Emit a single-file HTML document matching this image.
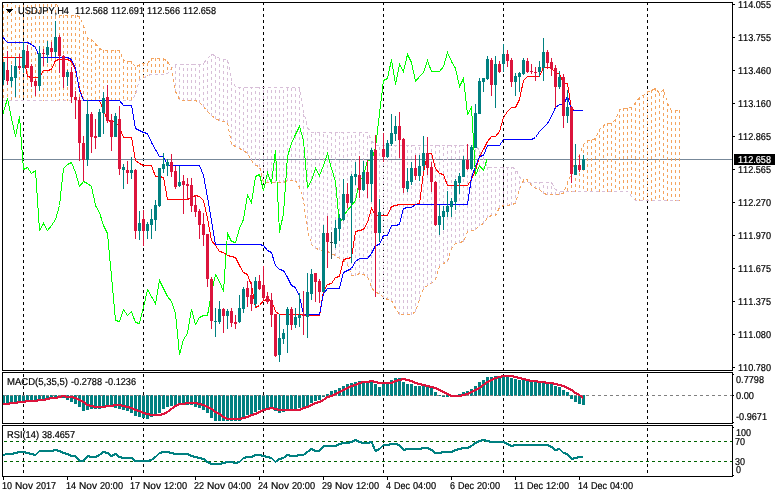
<!DOCTYPE html>
<html lang="en"><head><meta charset="utf-8"><title>USDJPY,H4</title>
<style>html,body{margin:0;padding:0;background:#fff;overflow:hidden}svg{display:block}text{font-family:"Liberation Sans", sans-serif;font-size:10px;fill:#000;font-kerning:none;text-rendering:geometricPrecision;stroke:#000;stroke-width:0.2px}.c{shape-rendering:crispEdges}</style></head><body>
<svg width="775" height="497" viewBox="0 0 775 497">
<rect width="775" height="497" fill="#fff"/>
<defs><clipPath id="m"><rect x="3" y="3" width="729" height="367"/></clipPath><clipPath id="p2"><rect x="3" y="373" width="729" height="50"/></clipPath><clipPath id="p3"><rect x="3" y="426" width="729" height="50"/></clipPath></defs>
<g class="c">
<path d="M23.5 2V476" stroke="#000" stroke-width="1" stroke-dasharray="3 3" fill="none"/>
<path d="M143.5 2V476" stroke="#000" stroke-width="1" stroke-dasharray="3 3" fill="none"/>
<path d="M263.5 2V476" stroke="#000" stroke-width="1" stroke-dasharray="3 3" fill="none"/>
<path d="M383.5 2V476" stroke="#000" stroke-width="1" stroke-dasharray="3 3" fill="none"/>
<path d="M503.5 2V476" stroke="#000" stroke-width="1" stroke-dasharray="3 3" fill="none"/>
<path d="M647.5 2V476" stroke="#000" stroke-width="1" stroke-dasharray="3 3" fill="none"/>
<rect x="3" y="159" width="730" height="1" fill="#778899"/>
</g>
<g class="c" clip-path="url(#m)">
<path d="M3.5 -1V101M7.5 -2V101M11.5 1V101M15.5 -1V101M19.5 -1V101M23.5 -1V101M27.5 -1V101M31.5 -1V101M35.5 -2V101M39.5 -2V101M43.5 -2V101M47.5 -2V101M51.5 -2V101M55.5 -2V101M59.5 15V101M63.5 15V101M67.5 15V101M71.5 15V101M75.5 15V101M79.5 16V101M83.5 25V101M87.5 38V101M91.5 39V101M95.5 43V101M99.5 48V101M103.5 50V101M107.5 50V101M111.5 50V101M115.5 50V101M119.5 50V101M123.5 60V101M127.5 61V101M131.5 61V101M135.5 67V95M139.5 64V80M143.5 63V79M147.5 63V76M151.5 58V75M155.5 58V75M159.5 58V75M163.5 58V75M167.5 61V74M523.5 179V183M527.5 179V183M567.5 182V192M571.5 173V192M575.5 160V192M579.5 155V192M583.5 144V192M587.5 140V192M591.5 140V192M595.5 138V192M599.5 129V192M603.5 125V192M607.5 123V192M611.5 123V192M615.5 119V192M619.5 109V192M623.5 108V192M627.5 108V192M631.5 107V197M635.5 102V201M639.5 97V201M643.5 95V201M647.5 91V201M651.5 90V201M655.5 88V201M659.5 93V201M663.5 89V201M667.5 103V201M671.5 110V201M675.5 110V201M679.5 110V201" stroke="#F4A460" stroke-width="1" stroke-dasharray="3 3" fill="none"/>
<path d="M175.5 92V64M179.5 100V64M183.5 101V64M187.5 101V64M191.5 101V64M195.5 101V64M199.5 103V64M203.5 107V63M207.5 112V58M211.5 116V54M215.5 119V55M219.5 121V58M223.5 122V59M227.5 123V59M231.5 145V80M235.5 147V86M239.5 149V87M243.5 151V87M247.5 154V87M251.5 161V87M255.5 166V87M259.5 167V87M263.5 183V87M267.5 183V87M271.5 183V87M275.5 183V87M279.5 183V87M283.5 183V87M287.5 181V87M291.5 181V87M295.5 181V87M299.5 188V87M303.5 201V110M307.5 231V127M311.5 245V132M315.5 249V132M319.5 250V132M323.5 251V132M327.5 252V132M331.5 254V132M335.5 256V132M339.5 259V132M343.5 260V132M347.5 265V132M351.5 276V132M355.5 276V132M359.5 274V132M363.5 275V132M367.5 277V132M371.5 288V140M375.5 293V145M379.5 294V145M383.5 298V145M387.5 300V145M391.5 301V145M395.5 309V145M399.5 315V145M403.5 315V145M407.5 315V145M411.5 315V145M415.5 312V145M419.5 300V145M423.5 289V145M427.5 286V145M431.5 284V145M435.5 280V145M439.5 267V145M443.5 264V145M447.5 262V145M451.5 249V145M455.5 244V145M459.5 243V145M463.5 242V145M467.5 232V145M471.5 231V145M475.5 230V145M479.5 226V150M483.5 224V158M487.5 218V167M491.5 216V167M495.5 216V167M499.5 208V167M503.5 206V167M507.5 206V167M511.5 205V167M515.5 204V168M519.5 190V176M531.5 186V182M535.5 189V182M539.5 190V182M543.5 194V182M547.5 195V182M551.5 195V182M555.5 195V189M559.5 195V191M563.5 194V191" stroke="#D8BFD8" stroke-width="1" stroke-dasharray="3 3" fill="none"/>
<polyline points="3,100.5 7.5,100.5 11.5,100.5 15.5,100.5 19.5,100.5 23.5,100.5 27.5,100.5 31.5,100.5 35.5,100.5 39.5,100.5 43.5,100.5 47.5,100.5 51.5,100.5 55.5,100.5 59.5,100.5 63.5,100.5 67.5,100.5 71.5,100.5 75.5,100.5 79.5,100.5 83.5,100.5 87.5,100.5 91.5,100.5 95.5,100.5 99.5,100.5 103.5,100.5 107.5,100.5 111.5,100.5 115.5,100.5 119.5,100.5 123.5,100.5 127.5,100.5 131.5,100.5 135.5,94.5 139.5,79.5 143.5,78.5 147.5,75.5 151.5,74.5 155.5,74.5 159.5,74.5 163.5,74.5 167.5,73.5 171.5,68.5 175.5,64.5 179.5,64.5 183.5,64.5 187.5,64.5 191.5,64.5 195.5,64.5 199.5,64.5 203.5,63.5 207.5,58.5 211.5,54.5 215.5,55.5 219.5,58.5 223.5,59.5 227.5,59.5 231.5,80.5 235.5,86.5 239.5,87.5 243.5,87.5 247.5,87.5 251.5,87.5 255.5,87.5 259.5,87.5 263.5,87.5 267.5,87.5 271.5,87.5 275.5,87.5 279.5,87.5 283.5,87.5 287.5,87.5 291.5,87.5 295.5,87.5 299.5,87.5 303.5,110.5 307.5,127.5 311.5,132.5 315.5,132.5 319.5,132.5 323.5,132.5 327.5,132.5 331.5,132.5 335.5,132.5 339.5,132.5 343.5,132.5 347.5,132.5 351.5,132.5 355.5,132.5 359.5,132.5 363.5,132.5 367.5,132.5 371.5,140.5 375.5,145.5 379.5,145.5 383.5,145.5 387.5,145.5 391.5,145.5 395.5,145.5 399.5,145.5 403.5,145.5 407.5,145.5 411.5,145.5 415.5,145.5 419.5,145.5 423.5,145.5 427.5,145.5 431.5,145.5 435.5,145.5 439.5,145.5 443.5,145.5 447.5,145.5 451.5,145.5 455.5,145.5 459.5,145.5 463.5,145.5 467.5,145.5 471.5,145.5 475.5,145.5 479.5,150.5 483.5,158.5 487.5,167.5 491.5,167.5 495.5,167.5 499.5,167.5 503.5,167.5 507.5,167.5 511.5,167.5 515.5,168.5 519.5,176.5 523.5,182.5 527.5,182.5 531.5,182.5 535.5,182.5 539.5,182.5 543.5,182.5 547.5,182.5 551.5,182.5 555.5,189.5 559.5,191.5 563.5,191.5 567.5,191.5 571.5,191.5 575.5,191.5 579.5,191.5 583.5,191.5 587.5,191.5 591.5,191.5 595.5,191.5 599.5,191.5 603.5,191.5 607.5,191.5 611.5,191.5 615.5,191.5 619.5,191.5 623.5,191.5 627.5,191.5 631.5,196.5 635.5,200.5 639.5,200.5 643.5,200.5 647.5,200.5 651.5,200.5 655.5,200.5 659.5,200.5 663.5,200.5 667.5,200.5 671.5,200.5 675.5,200.5 679,200.5" stroke="#D8BFD8" stroke-width="1" fill="none" stroke-dasharray="3 3" stroke-dashoffset="0.5"/>
<polyline points="3,-0.5 7.5,-1.5 11.5,1.5 15.5,-0.5 19.5,-0.5 23.5,-0.5 27.5,-0.5 31.5,-0.5 35.5,-1.5 39.5,-1.5 43.5,-1.5 47.5,-1.5 51.5,-1.5 55.5,-1.5 59.5,15.5 63.5,15.5 67.5,15.5 71.5,15.5 75.5,15.5 79.5,16.5 83.5,25.5 87.5,38.5 91.5,39.5 95.5,43.5 99.5,48.5 103.5,50.5 107.5,50.5 111.5,50.5 115.5,50.5 119.5,50.5 123.5,60.5 127.5,61.5 131.5,61.5 135.5,67.5 139.5,64.5 143.5,63.5 147.5,63.5 151.5,58.5 155.5,58.5 159.5,58.5 163.5,58.5 167.5,61.5 171.5,68.5 175.5,91.5 179.5,99.5 183.5,100.5 187.5,100.5 191.5,100.5 195.5,100.5 199.5,102.5 203.5,106.5 207.5,111.5 211.5,115.5 215.5,118.5 219.5,120.5 223.5,121.5 227.5,122.5 231.5,144.5 235.5,146.5 239.5,148.5 243.5,150.5 247.5,153.5 251.5,160.5 255.5,165.5 259.5,166.5 263.5,182.5 267.5,182.5 271.5,182.5 275.5,182.5 279.5,182.5 283.5,182.5 287.5,180.5 291.5,180.5 295.5,180.5 299.5,187.5 303.5,200.5 307.5,230.5 311.5,244.5 315.5,248.5 319.5,249.5 323.5,250.5 327.5,251.5 331.5,253.5 335.5,255.5 339.5,258.5 343.5,259.5 347.5,264.5 351.5,275.5 355.5,275.5 359.5,273.5 363.5,274.5 367.5,276.5 371.5,287.5 375.5,292.5 379.5,293.5 383.5,297.5 387.5,299.5 391.5,300.5 395.5,308.5 399.5,314.5 403.5,314.5 407.5,314.5 411.5,314.5 415.5,311.5 419.5,299.5 423.5,288.5 427.5,285.5 431.5,283.5 435.5,279.5 439.5,266.5 443.5,263.5 447.5,261.5 451.5,248.5 455.5,243.5 459.5,242.5 463.5,241.5 467.5,231.5 471.5,230.5 475.5,229.5 479.5,225.5 483.5,223.5 487.5,217.5 491.5,215.5 495.5,215.5 499.5,207.5 503.5,205.5 507.5,205.5 511.5,204.5 515.5,203.5 519.5,189.5 523.5,179.5 527.5,179.5 531.5,185.5 535.5,188.5 539.5,189.5 543.5,193.5 547.5,194.5 551.5,194.5 555.5,194.5 559.5,194.5 563.5,193.5 567.5,182.5 571.5,173.5 575.5,160.5 579.5,155.5 583.5,144.5 587.5,140.5 591.5,140.5 595.5,138.5 599.5,129.5 603.5,125.5 607.5,123.5 611.5,123.5 615.5,119.5 619.5,109.5 623.5,108.5 627.5,108.5 631.5,107.5 635.5,102.5 639.5,97.5 643.5,95.5 647.5,91.5 651.5,90.5 655.5,88.5 659.5,93.5 663.5,89.5 667.5,103.5 671.5,110.5 675.5,110.5 679,110.5" stroke="#F4A460" stroke-width="1" fill="none" stroke-dasharray="3 3" stroke-dashoffset="0.5"/>
</g>
<g class="c" clip-path="url(#m)">
<polyline points="3,57.5 7.5,57.5 11.5,57.5 15.5,57.5 19.5,57.5 23.5,57.5 27.5,76.5 31.5,77.5 35.5,77.5 39.5,77.5 43.5,70.5 47.5,70.5 51.5,69.5 55.5,60.5 59.5,59.5 63.5,59.5 67.5,59.5 71.5,61.5 75.5,70.5 79.5,88.5 83.5,100.5 87.5,100.5 91.5,100.5 95.5,100.5 99.5,100.5 103.5,110.5 107.5,120.5 111.5,121.5 115.5,121.5 119.5,127.5 123.5,137.5 127.5,137.5 131.5,137.5 135.5,160.5 139.5,163.5 143.5,165.5 147.5,165.5 151.5,165.5 155.5,176.5 159.5,176.5 163.5,177.5 167.5,199.5 171.5,199.5 175.5,199.5 179.5,199.5 183.5,199.5 187.5,199.5 191.5,197.5 195.5,195.5 199.5,196.5 203.5,200.5 207.5,218.5 211.5,240.5 215.5,245.5 219.5,251.5 223.5,252.5 227.5,255.5 231.5,256.5 235.5,257.5 239.5,265.5 243.5,272.5 247.5,274.5 251.5,285.5 255.5,307.5 259.5,305.5 263.5,300.5 267.5,299.5 271.5,300.5 275.5,311.5 279.5,314.5 283.5,314.5 287.5,314.5 291.5,314.5 295.5,314.5 299.5,314.5 303.5,314.5 307.5,315.5 311.5,315.5 315.5,315.5 319.5,315.5 323.5,291.5 327.5,284.5 331.5,283.5 335.5,277.5 339.5,276.5 343.5,259.5 347.5,258.5 351.5,257.5 355.5,231.5 359.5,230.5 363.5,229.5 367.5,222.5 371.5,208.5 375.5,215.5 379.5,215.5 383.5,215.5 387.5,215.5 391.5,206.5 395.5,205.5 399.5,204.5 403.5,204.5 407.5,204.5 411.5,204.5 415.5,204.5 419.5,203.5 423.5,172.5 427.5,153.5 431.5,153.5 435.5,168.5 439.5,173.5 443.5,174.5 447.5,185.5 451.5,185.5 455.5,185.5 459.5,185.5 463.5,185.5 467.5,185.5 471.5,179.5 475.5,170.5 479.5,156.5 483.5,149.5 487.5,141.5 491.5,136.5 495.5,136.5 499.5,131.5 503.5,117.5 507.5,111.5 511.5,107.5 515.5,107.5 519.5,99.5 523.5,80.5 527.5,76.5 531.5,76.5 535.5,76.5 539.5,76.5 543.5,67.5 547.5,67.5 551.5,67.5 555.5,73.5 559.5,73.5 563.5,83.5 567.5,83.5 571.5,109.5 575.5,110.5 579.5,110.5 583,110.5" stroke="#FF0000" stroke-width="1" fill="none" />
<polyline points="3,37.5 7.5,42.5 11.5,42.5 15.5,42.5 19.5,42.5 23.5,42.5 27.5,42.5 31.5,44.5 35.5,47.5 39.5,57.5 43.5,57.5 47.5,57.5 51.5,57.5 55.5,57.5 59.5,57.5 63.5,57.5 67.5,57.5 71.5,59.5 75.5,68.5 79.5,90.5 83.5,100.5 87.5,100.5 91.5,100.5 95.5,100.5 99.5,100.5 103.5,100.5 107.5,100.5 111.5,100.5 115.5,100.5 119.5,100.5 123.5,105.5 127.5,105.5 131.5,105.5 135.5,128.5 139.5,130.5 143.5,132.5 147.5,133.5 151.5,142.5 155.5,149.5 159.5,156.5 163.5,156.5 167.5,165.5 171.5,165.5 175.5,165.5 179.5,165.5 183.5,165.5 187.5,165.5 191.5,165.5 195.5,165.5 199.5,165.5 203.5,175.5 207.5,197.5 211.5,220.5 215.5,244.5 219.5,244.5 223.5,244.5 227.5,244.5 231.5,244.5 235.5,244.5 239.5,244.5 243.5,244.5 247.5,244.5 251.5,244.5 255.5,244.5 259.5,244.5 263.5,245.5 267.5,250.5 271.5,252.5 275.5,265.5 279.5,269.5 283.5,270.5 287.5,277.5 291.5,285.5 295.5,287.5 299.5,296.5 303.5,314.5 307.5,314.5 311.5,314.5 315.5,314.5 319.5,314.5 323.5,293.5 327.5,288.5 331.5,288.5 335.5,288.5 339.5,288.5 343.5,272.5 347.5,270.5 351.5,268.5 355.5,261.5 359.5,258.5 363.5,258.5 367.5,258.5 371.5,253.5 375.5,245.5 379.5,244.5 383.5,235.5 387.5,235.5 391.5,225.5 395.5,225.5 399.5,224.5 403.5,208.5 407.5,207.5 411.5,207.5 415.5,204.5 419.5,204.5 423.5,204.5 427.5,204.5 431.5,204.5 435.5,204.5 439.5,204.5 443.5,204.5 447.5,204.5 451.5,204.5 455.5,204.5 459.5,204.5 463.5,204.5 467.5,204.5 471.5,177.5 475.5,166.5 479.5,156.5 483.5,155.5 487.5,145.5 491.5,145.5 495.5,145.5 499.5,145.5 503.5,139.5 507.5,139.5 511.5,139.5 515.5,139.5 519.5,139.5 523.5,139.5 527.5,139.5 531.5,139.5 535.5,137.5 539.5,131.5 543.5,127.5 547.5,123.5 551.5,116.5 555.5,107.5 559.5,104.5 563.5,104.5 567.5,96.5 571.5,110.5 575.5,110.5 579.5,110.5 583,110.5" stroke="#0000FF" stroke-width="1" fill="none" />
<polyline points="3,113.5 7.5,98.5 11.5,118.5 15.5,136.5 19.5,116.5 23.5,169.5 27.5,167.5 31.5,173.5 35.5,170.5 39.5,230.5 43.5,223.5 47.5,230.5 51.5,225.5 55.5,219.5 59.5,205.5 63.5,168.5 67.5,164.5 71.5,162.5 75.5,172.5 79.5,186.5 83.5,181.5 87.5,183.5 91.5,186.5 95.5,205.5 99.5,212.5 103.5,225.5 107.5,233.5 111.5,276.5 115.5,320.5 119.5,321.5 123.5,309.5 127.5,315.5 131.5,311.5 135.5,322.5 139.5,323.5 143.5,307.5 147.5,289.5 151.5,296.5 155.5,303.5 159.5,280.5 163.5,288.5 167.5,296.5 171.5,301.5 175.5,313.5 179.5,354.5 183.5,339.5 187.5,333.5 191.5,309.5 195.5,324.5 199.5,317.5 203.5,315.5 207.5,315.5 211.5,292.5 215.5,274.5 219.5,281.5 223.5,291.5 227.5,233.5 231.5,241.5 235.5,242.5 239.5,228.5 243.5,219.5 247.5,195.5 251.5,202.5 255.5,176.5 259.5,174.5 263.5,190.5 267.5,172.5 271.5,183.5 275.5,150.5 279.5,232.5 283.5,213.5 287.5,156.5 291.5,143.5 295.5,134.5 299.5,126.5 303.5,140.5 307.5,187.5 311.5,180.5 315.5,168.5 319.5,175.5 323.5,165.5 327.5,153.5 331.5,168.5 335.5,181.5 339.5,224.5 343.5,215.5 347.5,210.5 351.5,205.5 355.5,200.5 359.5,181.5 363.5,175.5 367.5,160.5 371.5,160.5 375.5,147.5 379.5,113.5 383.5,80.5 387.5,78.5 391.5,59.5 395.5,84.5 399.5,64.5 403.5,71.5 407.5,54.5 411.5,62.5 415.5,81.5 419.5,76.5 423.5,72.5 427.5,60.5 431.5,71.5 435.5,71.5 439.5,71.5 443.5,66.5 447.5,52.5 451.5,61.5 455.5,68.5 459.5,86.5 463.5,78.5 467.5,114.5 471.5,107.5 475.5,175.5 479.5,165.5 483.5,170.5 487,159.5" stroke="#00FF00" stroke-width="1" fill="none" />
</g>
<g class="c">
<path d="M3 62h1v23h-1zM2 62h3v18h-3zM11 65h1v22h-1zM10 77h3v4h-3zM15 57h1v40h-1zM14 66h3v12h-3zM23 42h1v31h-1zM22 50h3v18h-3zM39 46h1v45h-1zM38 53h3v33h-3zM47 41h1v22h-1zM46 47h3v8h-3zM55 21h1v36h-1zM54 37h3v15h-3zM67 70h1v16h-1zM66 72h3v5h-3zM87 100h1v66h-1zM86 114h3v46h-3zM99 109h1v28h-1zM98 112h3v25h-3zM103 92h1v42h-1zM102 98h3v15h-3zM115 113h1v24h-1zM114 116h3v21h-3zM123 164h1v25h-1zM122 167h3v3h-3zM131 157h1v22h-1zM130 170h3v3h-3zM139 211h1v29h-1zM138 223h3v8h-3zM147 222h1v17h-1zM146 224h3v7h-3zM151 209h1v30h-1zM150 219h3v6h-3zM155 200h1v31h-1zM154 205h3v15h-3zM159 168h1v39h-1zM158 168h3v38h-3zM163 153h1v20h-1zM162 164h3v5h-3zM167 159h1v17h-1zM166 162h3v4h-3zM179 166h1v21h-1zM178 182h3v4h-3zM215 308h1v29h-1zM214 321h3v1h-3zM219 301h1v23h-1zM218 309h3v13h-3zM227 309h1v20h-1zM226 311h3v5h-3zM239 295h1v28h-1zM238 308h3v14h-3zM243 287h1v26h-1zM242 289h3v20h-3zM255 277h1v30h-1zM254 281h3v23h-3zM279 314h1v48h-1zM278 338h3v17h-3zM283 329h1v15h-1zM282 333h3v6h-3zM287 307h1v46h-1zM286 309h3v16h-3zM295 308h1v20h-1zM294 317h3v8h-3zM299 293h1v34h-1zM298 315h3v3h-3zM307 273h1v65h-1zM306 292h3v25h-3zM311 269h1v31h-1zM310 274h3v20h-3zM323 225h1v67h-1zM322 233h3v59h-3zM335 220h1v28h-1zM334 228h3v16h-3zM339 214h1v27h-1zM338 218h3v11h-3zM343 179h1v42h-1zM342 194h3v26h-3zM351 174h1v89h-1zM350 176h3v27h-3zM355 162h1v23h-1zM354 174h3v3h-3zM363 161h1v30h-1zM362 172h3v18h-3zM371 148h1v54h-1zM370 150h3v34h-3zM379 199h1v43h-1zM378 212h3v21h-3zM387 140h1v18h-1zM386 143h3v14h-3zM391 114h1v32h-1zM390 133h3v11h-3zM395 116h1v25h-1zM394 126h3v8h-3zM407 168h1v24h-1zM406 181h3v8h-3zM411 162h1v23h-1zM410 168h3v14h-3zM419 155h1v26h-1zM418 166h3v10h-3zM423 136h1v35h-1zM422 153h3v13h-3zM439 205h1v30h-1zM438 216h3v9h-3zM443 206h1v24h-1zM442 211h3v6h-3zM447 191h1v26h-1zM446 206h3v6h-3zM451 198h1v19h-1zM450 201h3v6h-3zM455 179h1v31h-1zM454 181h3v21h-3zM459 173h1v21h-1zM458 176h3v7h-3zM463 156h1v21h-1zM462 160h3v17h-3zM471 145h1v25h-1zM470 147h3v22h-3zM475 104h1v44h-1zM474 113h3v35h-3zM479 78h1v36h-1zM478 81h3v33h-3zM483 78h1v14h-1zM482 78h3v4h-3zM487 56h1v24h-1zM486 59h3v20h-3zM495 56h1v52h-1zM494 64h3v21h-3zM503 44h1v28h-1zM502 54h3v10h-3zM515 73h1v23h-1zM514 76h3v6h-3zM519 72h1v20h-1zM518 73h3v4h-3zM523 58h1v17h-1zM522 60h3v14h-3zM539 61h1v16h-1zM538 67h3v5h-3zM543 38h1v43h-1zM542 52h3v16h-3zM559 71h1v18h-1zM558 77h3v10h-3zM567 90h1v33h-1zM566 107h3v9h-3zM575 144h1v31h-1zM574 165h3v10h-3zM583 155h1v15h-1zM582 159h3v11h-3z" fill="#008080"/>
<path d="M7 51h1v34h-1zM6 70h3v11h-3zM19 54h1v16h-1zM18 66h3v2h-3zM27 45h1v23h-1zM26 51h3v17h-3zM31 64h1v23h-1zM30 66h3v16h-3zM35 79h1v17h-1zM34 81h3v5h-3zM43 49h1v17h-1zM42 53h3v1h-3zM51 42h1v15h-1zM50 48h3v4h-3zM59 35h1v38h-1zM58 37h3v19h-3zM63 55h1v33h-1zM62 56h3v21h-3zM71 67h1v36h-1zM70 72h3v25h-3zM75 91h1v28h-1zM74 97h3v3h-3zM79 97h1v64h-1zM78 100h3v43h-3zM83 136h1v45h-1zM82 143h3v17h-3zM91 112h1v41h-1zM90 114h3v23h-3zM95 119h1v30h-1zM94 136h3v2h-3zM107 85h1v38h-1zM106 97h3v24h-3zM111 114h1v37h-1zM110 120h3v17h-3zM119 106h1v69h-1zM118 119h3v50h-3zM127 161h1v23h-1zM126 170h3v3h-3zM135 169h1v70h-1zM134 170h3v61h-3zM143 210h1v36h-1zM142 219h3v12h-3zM171 154h1v23h-1zM170 162h3v10h-3zM175 166h1v23h-1zM174 171h3v16h-3zM183 175h1v39h-1zM182 181h3v4h-3zM187 178h1v22h-1zM186 184h3v2h-3zM191 178h1v34h-1zM190 185h3v21h-3zM195 195h1v22h-1zM194 205h3v7h-3zM199 209h1v30h-1zM198 211h3v14h-3zM203 213h1v33h-1zM202 224h3v11h-3zM207 234h1v53h-1zM206 234h3v45h-3zM211 277h1v52h-1zM210 279h3v42h-3zM223 308h1v25h-1zM222 309h3v7h-3zM231 308h1v19h-1zM230 311h3v12h-3zM235 315h1v14h-1zM234 322h3v2h-3zM247 281h1v26h-1zM246 288h3v9h-3zM251 282h1v29h-1zM250 295h3v9h-3zM259 275h1v15h-1zM258 281h3v8h-3zM263 266h1v34h-1zM262 285h3v13h-3zM267 292h1v12h-1zM266 296h3v6h-3zM271 293h1v34h-1zM270 300h3v15h-3zM275 314h1v43h-1zM274 314h3v42h-3zM291 307h1v23h-1zM290 309h3v16h-3zM303 291h1v44h-1zM302 314h3v2h-3zM315 273h1v29h-1zM314 273h3v9h-3zM319 279h1v24h-1zM318 281h3v11h-3zM327 216h1v52h-1zM326 233h3v9h-3zM347 183h1v25h-1zM346 194h3v9h-3zM359 156h1v42h-1zM358 175h3v15h-3zM367 160h1v38h-1zM366 172h3v12h-3zM375 135h1v162h-1zM374 150h3v83h-3zM383 133h1v29h-1zM382 149h3v8h-3zM399 112h1v46h-1zM398 126h3v14h-3zM403 138h1v55h-1zM402 139h3v49h-3zM415 155h1v25h-1zM414 168h3v8h-3zM427 137h1v38h-1zM426 153h3v15h-3zM431 162h1v30h-1zM430 167h3v15h-3zM435 181h1v45h-1zM434 182h3v43h-3zM467 144h1v26h-1zM466 160h3v9h-3zM491 58h1v38h-1zM490 60h3v25h-3zM499 61h1v12h-1zM498 64h3v8h-3zM507 50h1v17h-1zM506 54h3v7h-3zM511 58h1v29h-1zM510 60h3v22h-3zM527 58h1v15h-1zM526 61h3v11h-3zM531 64h1v10h-1zM530 71h3v1h-3zM535 67h1v14h-1zM534 72h3v1h-3zM547 50h1v19h-1zM546 52h3v11h-3zM551 58h1v18h-1zM550 62h3v7h-3zM555 65h1v43h-1zM554 68h3v19h-3zM563 74h1v54h-1zM562 77h3v39h-3zM571 106h1v77h-1zM570 107h3v67h-3zM579 155h1v17h-1zM578 165h3v5h-3z" fill="#DC143C"/>
<path d="M331 232h1v27h-1zM330 242h3v1h-3z" fill="#2F4F4F"/>
</g>
<g class="c" clip-path="url(#p2)">
<path d="M2 395h3v10h-3zM6 395h3v9h-3zM10 395h3v8h-3zM14 395h3v8h-3zM18 395h3v8h-3zM22 395h3v7h-3zM26 395h3v6h-3zM30 395h3v6h-3zM34 395h3v6h-3zM38 395h3v5h-3zM42 395h3v4h-3zM46 395h3v3h-3zM50 395h3v2h-3zM54 395h3v2h-3zM58 395h3v2h-3zM62 395h3v3h-3zM66 395h3v5h-3zM70 395h3v7h-3zM74 395h3v9h-3zM78 395h3v12h-3zM82 395h3v16h-3zM86 395h3v15h-3zM90 395h3v14h-3zM94 395h3v14h-3zM98 395h3v14h-3zM102 395h3v13h-3zM106 395h3v12h-3zM110 395h3v12h-3zM114 395h3v13h-3zM118 395h3v14h-3zM122 395h3v15h-3zM126 395h3v16h-3zM130 395h3v18h-3zM134 395h3v21h-3zM138 395h3v22h-3zM142 395h3v23h-3zM146 395h3v24h-3zM150 395h3v22h-3zM154 395h3v21h-3zM158 395h3v18h-3zM162 395h3v14h-3zM166 395h3v12h-3zM170 395h3v11h-3zM174 395h3v10h-3zM178 395h3v10h-3zM182 395h3v10h-3zM186 395h3v10h-3zM190 395h3v10h-3zM194 395h3v12h-3zM198 395h3v13h-3zM202 395h3v15h-3zM206 395h3v18h-3zM210 395h3v23h-3zM214 395h3v26h-3zM218 395h3v26h-3zM222 395h3v26h-3zM226 395h3v26h-3zM230 395h3v26h-3zM234 395h3v26h-3zM238 395h3v26h-3zM242 395h3v23h-3zM246 395h3v20h-3zM250 395h3v19h-3zM254 395h3v17h-3zM258 395h3v15h-3zM262 395h3v14h-3zM266 395h3v14h-3zM270 395h3v14h-3zM274 395h3v16h-3zM278 395h3v18h-3zM282 395h3v17h-3zM286 395h3v16h-3zM290 395h3v15h-3zM294 395h3v14h-3zM298 395h3v13h-3zM302 395h3v12h-3zM306 395h3v11h-3zM310 395h3v8h-3zM314 395h3v6h-3zM318 395h3v5h-3zM322 395h3v2h-3zM326 394h3v2h-3zM330 391h3v5h-3zM334 390h3v6h-3zM338 388h3v8h-3zM342 386h3v10h-3zM346 384h3v12h-3zM350 383h3v13h-3zM354 382h3v14h-3zM358 381h3v15h-3zM362 381h3v15h-3zM366 381h3v15h-3zM370 380h3v16h-3zM374 384h3v12h-3zM378 387h3v9h-3zM382 384h3v12h-3zM386 383h3v13h-3zM390 380h3v16h-3zM394 378h3v18h-3zM398 378h3v18h-3zM402 382h3v14h-3zM406 384h3v12h-3zM410 384h3v12h-3zM414 386h3v10h-3zM418 386h3v10h-3zM422 386h3v10h-3zM426 386h3v10h-3zM430 388h3v8h-3zM434 392h3v4h-3zM438 395h3v1h-3zM442 395h3v2h-3zM446 395h3v2h-3zM450 395h3v2h-3zM454 395h3v1h-3zM458 394h3v2h-3zM462 392h3v4h-3zM466 391h3v5h-3zM470 389h3v7h-3zM474 386h3v10h-3zM478 382h3v14h-3zM482 380h3v16h-3zM486 377h3v19h-3zM490 377h3v19h-3zM494 376h3v20h-3zM498 376h3v20h-3zM502 376h3v20h-3zM506 376h3v20h-3zM510 378h3v18h-3zM514 379h3v17h-3zM518 380h3v16h-3zM522 380h3v16h-3zM526 381h3v15h-3zM530 382h3v14h-3zM534 382h3v14h-3zM538 382h3v14h-3zM542 382h3v14h-3zM546 383h3v13h-3zM550 384h3v12h-3zM554 386h3v10h-3zM558 387h3v9h-3zM562 390h3v6h-3zM566 392h3v4h-3zM570 395h3v4h-3zM574 395h3v7h-3zM578 395h3v9h-3zM582 395h3v10h-3z" fill="#008080"/>
<path d="M4 395.5H732" stroke="#808080" stroke-width="1" stroke-dasharray="3 3" fill="none"/>
<polyline points="3,404 7.5,404 11.5,403 15.5,403 19.5,402 23.5,402 27.5,401 31.5,401 35.5,401 39.5,400 43.5,400 47.5,399 51.5,398 55.5,398 59.5,397 63.5,396 67.5,397 71.5,397 75.5,398 79.5,400 83.5,402 87.5,405 91.5,406 95.5,407 99.5,407 103.5,407 107.5,406 111.5,406 115.5,405 119.5,405 123.5,406 127.5,407 131.5,408 135.5,410 139.5,411 143.5,413 147.5,414 151.5,415 155.5,415 159.5,415 163.5,414 167.5,412 171.5,409 175.5,406 179.5,404 183.5,404 187.5,403 191.5,403 195.5,403 199.5,404 203.5,405 207.5,407 211.5,409 215.5,412 219.5,414 223.5,417 227.5,419 231.5,419 235.5,419 239.5,419 243.5,418 247.5,417 251.5,415 255.5,414 259.5,412 263.5,410 267.5,409 271.5,408 275.5,409 279.5,410 283.5,410 287.5,410 291.5,410 295.5,410 299.5,410 303.5,408 307.5,407 311.5,405 315.5,403 319.5,402 323.5,400 327.5,397 331.5,396 335.5,394 339.5,392 343.5,390 347.5,388 351.5,386 355.5,385 359.5,383 363.5,382 367.5,382 371.5,381 375.5,382 379.5,383 383.5,383 387.5,383 391.5,383 395.5,381 399.5,380 403.5,379 407.5,380 411.5,381 415.5,383 419.5,384 423.5,385 427.5,386 431.5,387 435.5,388 439.5,390 443.5,392 447.5,394 451.5,396 455.5,396 459.5,396 463.5,395 467.5,394 471.5,392 475.5,390 479.5,388 483.5,385 487.5,382 491.5,380 495.5,378 499.5,377 503.5,376 507.5,376 511.5,376 515.5,377 519.5,378 523.5,379 527.5,380 531.5,381 535.5,381 539.5,382 543.5,382 547.5,383 551.5,383 555.5,384 559.5,385 563.5,386 567.5,388 571.5,390 575.5,393 579.5,395 583,398" stroke="#DC143C" stroke-width="2" fill="none" stroke-linejoin="round"/>
</g>
<g class="c" clip-path="url(#p3)">
<path d="M4 441.5H732M4 461.5H732" stroke="#006400" stroke-width="1" stroke-dasharray="3 3" fill="none"/>
<polyline points="3,455 7.5,454 11.5,454 15.5,453 19.5,452 23.5,452 27.5,453 31.5,454 35.5,455 39.5,451 43.5,451 47.5,451 51.5,451 55.5,450 59.5,451 63.5,453 67.5,454 71.5,456 75.5,456 79.5,461 83.5,461 87.5,456 91.5,457 95.5,457 99.5,455 103.5,452 107.5,453 111.5,456 115.5,454 119.5,457 123.5,458 127.5,458 131.5,458 135.5,461 139.5,461 143.5,461 147.5,461 151.5,460 155.5,457 159.5,453 163.5,452 167.5,452 171.5,453 175.5,454 179.5,454 183.5,454 187.5,454 191.5,456 195.5,457 199.5,458 203.5,459 207.5,462 211.5,464 215.5,464 219.5,464 223.5,463 227.5,462 231.5,462 235.5,463 239.5,462 243.5,458 247.5,457 251.5,457 255.5,455 259.5,455 263.5,456 267.5,457 271.5,458 275.5,462 279.5,459 283.5,458 287.5,455 291.5,456 295.5,456 299.5,455 303.5,455 307.5,452 311.5,449 315.5,451 319.5,451 323.5,446 327.5,446 331.5,446 335.5,446 339.5,444 343.5,443 347.5,443 351.5,442 355.5,440 359.5,442 363.5,443 367.5,443 371.5,442 375.5,451 379.5,449 383.5,445 387.5,445 391.5,444 395.5,444 399.5,445 403.5,450 407.5,449 411.5,449 415.5,449 419.5,449 423.5,448 427.5,448 431.5,450 435.5,453 439.5,453 443.5,452 447.5,452 451.5,452 455.5,450 459.5,449 463.5,448 467.5,448 471.5,446 475.5,443 479.5,441 483.5,440 487.5,441 491.5,442 495.5,442 499.5,442 503.5,442 507.5,444 511.5,446 515.5,445 519.5,445 523.5,445 527.5,445 531.5,445 535.5,445 539.5,445 543.5,445 547.5,445 551.5,447 555.5,450 559.5,449 563.5,453 567.5,454 571.5,459 575.5,458 579.5,457 583,457" stroke="#008080" stroke-width="2" fill="none" stroke-linejoin="round"/>
</g>
<g class="c" fill="#000">
<rect x="2" y="2" width="731" height="1"/>
<rect x="2" y="2" width="1" height="475"/>
<rect x="732" y="2" width="1" height="475"/>
<rect x="2" y="370" width="731" height="1"/>
<rect x="2" y="372" width="731" height="1"/>
<rect x="2" y="423" width="731" height="1"/>
<rect x="2" y="425" width="731" height="1"/>
<rect x="2" y="476" width="731" height="1"/>
<rect x="2" y="371" width="731" height="1" fill="#fff"/>
<rect x="2" y="424" width="731" height="1" fill="#fff"/>
<rect x="733" y="4" width="2" height="1"/>
<rect x="733" y="37" width="2" height="1"/>
<rect x="733" y="70" width="2" height="1"/>
<rect x="733" y="103" width="2" height="1"/>
<rect x="733" y="136" width="2" height="1"/>
<rect x="733" y="169" width="2" height="1"/>
<rect x="733" y="202" width="2" height="1"/>
<rect x="733" y="235" width="2" height="1"/>
<rect x="733" y="268" width="2" height="1"/>
<rect x="733" y="301" width="2" height="1"/>
<rect x="733" y="334" width="2" height="1"/>
<rect x="733" y="367" width="2" height="1"/>
<rect x="733" y="374" width="1" height="1"/>
<rect x="733" y="395" width="1" height="1"/>
<rect x="733" y="422" width="1" height="1"/>
<rect x="733" y="427" width="1" height="1"/>
<rect x="733" y="475" width="1" height="1"/>
<rect x="3" y="477" width="1" height="3"/>
<rect x="67" y="477" width="1" height="3"/>
<rect x="131" y="477" width="1" height="3"/>
<rect x="195" y="477" width="1" height="3"/>
<rect x="259" y="477" width="1" height="3"/>
<rect x="323" y="477" width="1" height="3"/>
<rect x="387" y="477" width="1" height="3"/>
<rect x="451" y="477" width="1" height="3"/>
<rect x="515" y="477" width="1" height="3"/>
<rect x="579" y="477" width="1" height="3"/>
</g>
<text y="8" xml:space="preserve"><tspan x="738" textLength="33" lengthAdjust="spacingAndGlyphs">114.055</tspan></text>
<text y="41" xml:space="preserve"><tspan x="738" textLength="33" lengthAdjust="spacingAndGlyphs">113.755</tspan></text>
<text y="74" xml:space="preserve"><tspan x="738" textLength="33" lengthAdjust="spacingAndGlyphs">113.460</tspan></text>
<text y="107" xml:space="preserve"><tspan x="738" textLength="33" lengthAdjust="spacingAndGlyphs">113.160</tspan></text>
<text y="140" xml:space="preserve"><tspan x="738" textLength="33" lengthAdjust="spacingAndGlyphs">112.865</tspan></text>
<text y="173" xml:space="preserve"><tspan x="738" textLength="33" lengthAdjust="spacingAndGlyphs">112.565</tspan></text>
<text y="206" xml:space="preserve"><tspan x="738" textLength="33" lengthAdjust="spacingAndGlyphs">112.270</tspan></text>
<text y="239" xml:space="preserve"><tspan x="738" textLength="33" lengthAdjust="spacingAndGlyphs">111.970</tspan></text>
<text y="272" xml:space="preserve"><tspan x="738" textLength="33" lengthAdjust="spacingAndGlyphs">111.675</tspan></text>
<text y="305" xml:space="preserve"><tspan x="738" textLength="33" lengthAdjust="spacingAndGlyphs">111.375</tspan></text>
<text y="338" xml:space="preserve"><tspan x="738" textLength="33" lengthAdjust="spacingAndGlyphs">111.080</tspan></text>
<text y="371" xml:space="preserve"><tspan x="738" textLength="33" lengthAdjust="spacingAndGlyphs">110.780</tspan></text>
<rect x="734" y="154" width="41" height="11" fill="#000" class="c"/>
<text y="163" xml:space="preserve" style="fill:#fff;stroke:#fff"><tspan x="738" textLength="33" lengthAdjust="spacingAndGlyphs">112.658</tspan></text>
<text y="383" xml:space="preserve"><tspan x="736" textLength="28" lengthAdjust="spacingAndGlyphs">0.7798</tspan></text>
<text y="399" xml:space="preserve"><tspan x="736" textLength="18" lengthAdjust="spacingAndGlyphs">0.00</tspan></text>
<text y="420" xml:space="preserve"><tspan x="736" textLength="31" lengthAdjust="spacingAndGlyphs">-0.9671</tspan></text>
<text y="436" xml:space="preserve"><tspan x="736" textLength="15" lengthAdjust="spacingAndGlyphs">100</tspan></text>
<text y="445" xml:space="preserve"><tspan x="735" textLength="10" lengthAdjust="spacingAndGlyphs">70</tspan></text>
<text y="465" xml:space="preserve"><tspan x="735" textLength="10" lengthAdjust="spacingAndGlyphs">30</tspan></text>
<text y="473" xml:space="preserve"><tspan x="736" textLength="5" lengthAdjust="spacingAndGlyphs">0</tspan></text>
<text y="489" xml:space="preserve"><tspan x="2" textLength="10" lengthAdjust="spacingAndGlyphs">10</tspan> <tspan x="15" textLength="18" lengthAdjust="spacingAndGlyphs">Nov</tspan> <tspan x="36" textLength="20" lengthAdjust="spacingAndGlyphs">2017</tspan></text>
<text y="489" xml:space="preserve"><tspan x="66" textLength="10" lengthAdjust="spacingAndGlyphs">14</tspan> <tspan x="79" textLength="18" lengthAdjust="spacingAndGlyphs">Nov</tspan> <tspan x="100" textLength="23" lengthAdjust="spacingAndGlyphs">20:00</tspan></text>
<text y="489" xml:space="preserve"><tspan x="130" textLength="10" lengthAdjust="spacingAndGlyphs">17</tspan> <tspan x="143" textLength="18" lengthAdjust="spacingAndGlyphs">Nov</tspan> <tspan x="164" textLength="23" lengthAdjust="spacingAndGlyphs">12:00</tspan></text>
<text y="489" xml:space="preserve"><tspan x="194" textLength="10" lengthAdjust="spacingAndGlyphs">22</tspan> <tspan x="207" textLength="18" lengthAdjust="spacingAndGlyphs">Nov</tspan> <tspan x="228" textLength="23" lengthAdjust="spacingAndGlyphs">04:00</tspan></text>
<text y="489" xml:space="preserve"><tspan x="258" textLength="10" lengthAdjust="spacingAndGlyphs">24</tspan> <tspan x="271" textLength="18" lengthAdjust="spacingAndGlyphs">Nov</tspan> <tspan x="292" textLength="23" lengthAdjust="spacingAndGlyphs">20:00</tspan></text>
<text y="489" xml:space="preserve"><tspan x="322" textLength="10" lengthAdjust="spacingAndGlyphs">29</tspan> <tspan x="335" textLength="18" lengthAdjust="spacingAndGlyphs">Nov</tspan> <tspan x="356" textLength="23" lengthAdjust="spacingAndGlyphs">12:00</tspan></text>
<text y="489" xml:space="preserve"><tspan x="386" textLength="5" lengthAdjust="spacingAndGlyphs">4</tspan> <tspan x="394" textLength="16" lengthAdjust="spacingAndGlyphs">Dec</tspan> <tspan x="413" textLength="23" lengthAdjust="spacingAndGlyphs">04:00</tspan></text>
<text y="489" xml:space="preserve"><tspan x="450" textLength="5" lengthAdjust="spacingAndGlyphs">6</tspan> <tspan x="458" textLength="16" lengthAdjust="spacingAndGlyphs">Dec</tspan> <tspan x="477" textLength="23" lengthAdjust="spacingAndGlyphs">20:00</tspan></text>
<text y="489" xml:space="preserve"><tspan x="514" textLength="10" lengthAdjust="spacingAndGlyphs">11</tspan> <tspan x="527" textLength="16" lengthAdjust="spacingAndGlyphs">Dec</tspan> <tspan x="546" textLength="23" lengthAdjust="spacingAndGlyphs">12:00</tspan></text>
<text y="489" xml:space="preserve"><tspan x="578" textLength="10" lengthAdjust="spacingAndGlyphs">14</tspan> <tspan x="591" textLength="16" lengthAdjust="spacingAndGlyphs">Dec</tspan> <tspan x="610" textLength="23" lengthAdjust="spacingAndGlyphs">04:00</tspan></text>
<path class="c" d="M6 9h7v1h-7zM7 10h5v1h-5zM8 11h3v1h-3zM9 12h1v1h-1z" fill="#000"/>
<text y="14" xml:space="preserve"><tspan x="18" textLength="51" lengthAdjust="spacingAndGlyphs">USDJPY,H4</tspan>  <tspan x="75" textLength="33" lengthAdjust="spacingAndGlyphs">112.568</tspan> <tspan x="111" textLength="33" lengthAdjust="spacingAndGlyphs">112.691</tspan> <tspan x="147" textLength="33" lengthAdjust="spacingAndGlyphs">112.566</tspan> <tspan x="183" textLength="33" lengthAdjust="spacingAndGlyphs">112.658</tspan></text>
<text y="385" xml:space="preserve"><tspan x="7" textLength="61" lengthAdjust="spacingAndGlyphs">MACD(5,35,5)</tspan> <tspan x="71" textLength="31" lengthAdjust="spacingAndGlyphs">-0.2788</tspan> <tspan x="105" textLength="31" lengthAdjust="spacingAndGlyphs">-0.1236</tspan></text>
<text y="438" xml:space="preserve"><tspan x="7" textLength="32" lengthAdjust="spacingAndGlyphs">RSI(14)</tspan> <tspan x="42" textLength="33" lengthAdjust="spacingAndGlyphs">38.4657</tspan></text>
</svg></body></html>
